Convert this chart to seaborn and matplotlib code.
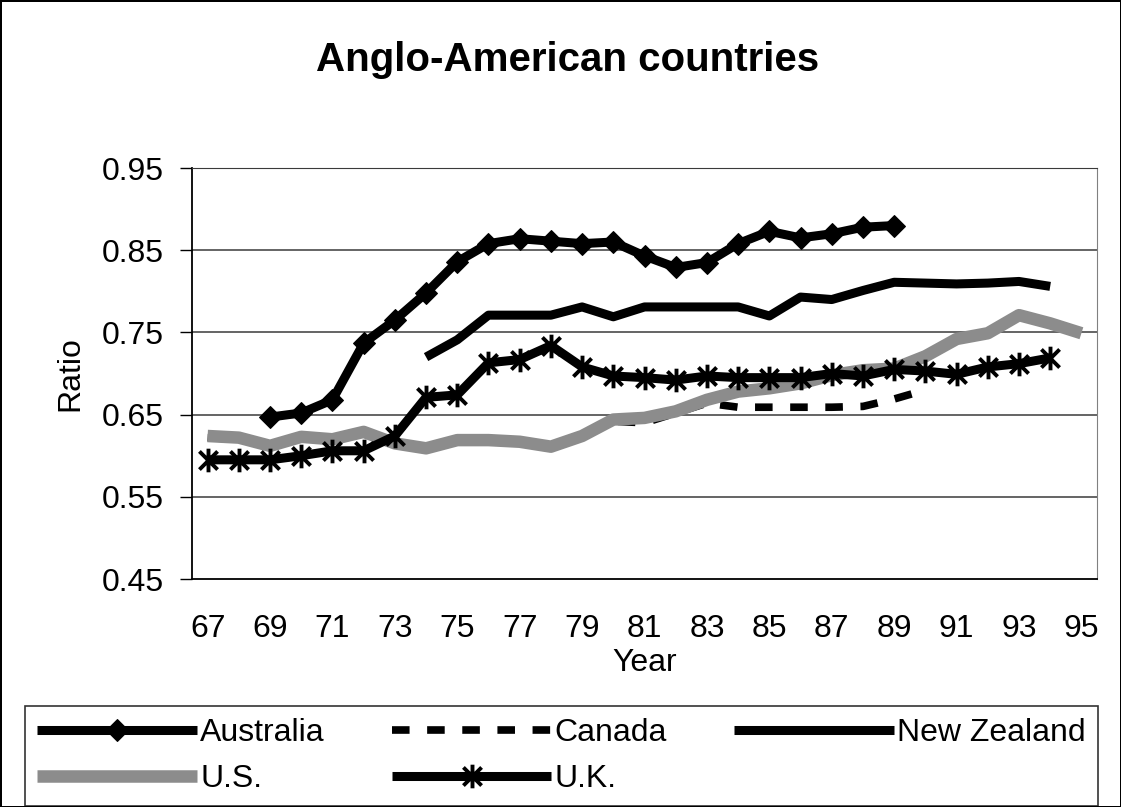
import numpy as np
import pandas as pd
import seaborn as sns
import matplotlib
matplotlib.use("Agg")
import matplotlib.pyplot as plt
from matplotlib.path import Path

nan = np.nan
years = list(range(67, 96))

australia = [nan, nan, 0.647, 0.652, 0.668, 0.737, 0.765, 0.798, 0.836, 0.858,
             0.864, 0.861, 0.858, 0.860, 0.843, 0.829, 0.835, 0.858, 0.873, 0.865,
             0.870, 0.878, 0.880, nan, nan, nan, nan, nan, nan]
canada = [0.622, 0.620, 0.611, 0.621, 0.619, 0.627, 0.614, 0.608, 0.618, 0.618,
          0.616, 0.611, 0.623, 0.642, 0.640, 0.652, 0.664, 0.659, 0.659, 0.659,
          0.659, 0.660, 0.669, 0.680, nan, nan, nan, nan, nan]
new_zealand = [nan, nan, nan, nan, nan, nan, nan, 0.720, 0.741, 0.771,
               0.771, 0.771, 0.781, 0.769, 0.781, 0.781, 0.781, 0.781, 0.770, 0.793,
               0.790, 0.801, 0.811, 0.810, 0.809, 0.810, 0.812, 0.806, nan]
us = [0.624, 0.622, 0.612, 0.623, 0.620, 0.629, 0.615, 0.609, 0.619, 0.619,
      0.617, 0.611, 0.624, 0.644, 0.646, 0.654, 0.668, 0.678, 0.682, 0.688,
      0.698, 0.704, 0.706, 0.721, 0.742, 0.749, 0.771, 0.761, 0.749]
uk = [0.595, 0.595, 0.595, 0.600, 0.606, 0.606, 0.624, 0.671, 0.674, 0.713,
      0.717, 0.734, 0.708, 0.697, 0.695, 0.692, 0.697, 0.695, 0.695, 0.695,
      0.700, 0.697, 0.705, 0.703, 0.699, 0.708, 0.712, 0.719, nan]

y_ticks = [0.45, 0.55, 0.65, 0.75, 0.85, 0.95]

sns.set_style("white")
plt.rcParams["font.family"] = ["Liberation Sans", "DejaVu Sans"]
plt.rcParams["text.color"] = "black"
plt.rcParams["axes.labelcolor"] = "black"
plt.rcParams["xtick.color"] = "black"
plt.rcParams["ytick.color"] = "black"

FS = 23

# asterisk marker like Excel's: X plus vertical bar
star = Path([(-1, -1), (1, 1), (-1, 1), (1, -1), (0, -1.3), (0, 1.3)],
            [Path.MOVETO, Path.LINETO, Path.MOVETO, Path.LINETO, Path.MOVETO, Path.LINETO])

fig = plt.figure(figsize=(11.21, 8.07), dpi=100)
ax = fig.add_axes([0.1713, 0.2825, 0.9786 - 0.1713, 0.7918 - 0.2825])

for yv in y_ticks[1:]:
    ax.axhline(yv, color="#3a3a3a", lw=1.1, zorder=0)

line_kw = dict(solid_capstyle="butt", dash_capstyle="butt")
sns.lineplot(x=years, y=australia, ax=ax, color="black", lw=6.5, marker="D",
             markersize=11, markeredgecolor="black", label="Australia", **line_kw)
sns.lineplot(x=years, y=canada, ax=ax, color="black", lw=5.5, label="Canada", **line_kw)
ax.lines[-1].set_dashes([2.3, 2.3])
sns.lineplot(x=years, y=new_zealand, ax=ax, color="black", lw=6.5, label="New Zealand",
             **line_kw)
sns.lineplot(x=years, y=us, ax=ax, color="#8c8c8c", lw=9, label="U.S.", **line_kw)
sns.lineplot(x=years, y=uk, ax=ax, color="black", lw=6.5, marker=star,
             markersize=17, markeredgewidth=2.8, markeredgecolor="black", label="U.K.",
             **line_kw)

ax.set_xlim(66.5, 95.5)
ax.set_ylim(0.45, 0.95)
ax.set_yticks(y_ticks)
ax.set_yticklabels([f"{v:.2f}" for v in y_ticks])
ax.set_xticks(years[::2])
ax.set_xticklabels([str(y) for y in years[::2]])
ax.set_xticks(np.arange(66.5, 96, 1), minor=True)
ax.tick_params(axis="x", which="major", length=0, pad=25, labelsize=FS)
ax.tick_params(axis="x", which="minor", length=9, width=1, direction="out", color="black")
ax.tick_params(axis="y", which="major", length=9, width=1, direction="out",
               color="black", pad=11, labelsize=FS, left=True)

for side in ["left", "bottom"]:
    ax.spines[side].set_color("black")
    ax.spines[side].set_linewidth(1.3)
ax.spines["right"].set_color("#808080")
ax.spines["top"].set_color("#3a3a3a")

ax.set_xlabel("Year", fontsize=FS, labelpad=3)
ax.set_ylabel("Ratio", fontsize=FS, labelpad=12)

fig.text(0.506, 0.926, "Anglo-American countries", ha="center", va="center",
         fontsize=29, fontweight="bold")

handles, labels = ax.get_legend_handles_labels()
ax.get_legend().remove()
# matplotlib fills legend columns first, so reorder to read row by row
order = [0, 3, 1, 4, 2]
leg = fig.legend([handles[i] for i in order], [labels[i] for i in order], ncol=3,
                 loc="upper left", bbox_to_anchor=(25 / 1121, 1 - 706 / 807),
                 fontsize=FS, handlelength=5.0, handletextpad=0.1, columnspacing=2.1,
                 frameon=True, fancybox=False, edgecolor="black",
                 borderpad=0.38, labelspacing=0.5, borderaxespad=0.0)
leg.get_frame().set_linewidth(1.2)

fig.patch.set_edgecolor("black")
fig.patch.set_linewidth(2)

fig.savefig("out.png", dpi=100, edgecolor=fig.get_edgecolor())
